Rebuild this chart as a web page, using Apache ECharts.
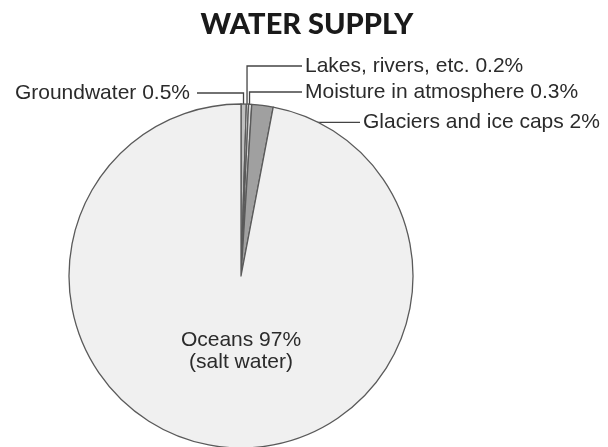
<!DOCTYPE html>
<html>
<head>
<meta charset="utf-8">
<script src="https://cdn.jsdelivr.net/npm/echarts@6/dist/echarts.min.js"></script>
<style>
  html, body { margin: 0; padding: 0; background: #fff; }
  #chart { width: 608px; height: 447px; }
</style>
</head>
<body>
<div id="chart"></div>
<script>
// Share of Earth's water by source, clockwise from 12 o'clock
const categories = ['Groundwater', 'Lakes, rivers, etc.', 'Moisture in atmosphere', 'Glaciers and ice caps', 'Oceans'];
const shares = [0.5, 0.2, 0.3, 2, 97];
const notes = ['', '', '', '', '(salt water)'];
const sliceColors = ['#c0c0c0', '#ececec', '#d8d8d8', '#a0a0a0', '#f0f0f0'];

// pie geometry
const CX = 241, CY = 276, R = 172;
const total = shares.reduce((a, b) => a + b, 0);

// point along the middle of slice i, at frac of the radius
function midPoint(i, frac) {
  let before = 0;
  for (let k = 0; k < i; k++) before += shares[k];
  const a = (before + shares[i] / 2) / total * 2 * Math.PI;
  return [CX + frac * R * Math.sin(a), CY - frac * R * Math.cos(a)];
}

// leader routing: start depth, elbow height (null = straight across), end x, text side
const leaders = [
  { depth: 0.93, y: 93, endX: 197, side: 'left' },
  { depth: 0.93, y: 66, endX: 302, side: 'right' },
  { depth: 0.93, y: 92, endX: 302, side: 'right' },
  { depth: 0.90, y: null, endX: 360, side: 'right' },
  null
];

const chart = echarts.init(document.getElementById('chart'), null, { renderer: 'canvas' });

chart.setOption({
  animation: false,
  graphic: [{
    type: 'text',
    x: 307,
    y: 25,
    style: {
      text: 'WATER SUPPLY',
      align: 'center',
      verticalAlign: 'middle',
      fontFamily: 'Lato',
      fontWeight: 900,
      fontSize: 29,
      fill: '#1a1a1a'
    }
  }],
  series: [{
    type: 'pie',
    center: [CX, CY],
    radius: R,
    startAngle: 90,
    clockwise: true,
    avoidLabelOverlap: false,
    silent: true,
    itemStyle: { borderColor: '#5a5a5a', borderWidth: 1.3 },
    label: {
      show: true,
      position: 'outside',
      fontFamily: 'Liberation Sans',
      fontSize: 21,
      color: '#2b2b2b',
      lineHeight: 22,
      formatter: p => notes[p.dataIndex]
        ? `${p.name} ${p.value}%\n${notes[p.dataIndex]}`
        : `${p.name} ${p.value}%`
    },
    labelLine: { show: true, lineStyle: { color: '#444', width: 1.3 } },
    labelLayout: params => {
      const i = params.dataIndex;
      const L = leaders[i];
      if (!L) {
        return { x: CX, y: CY + 0.44 * R, align: 'center', verticalAlign: 'middle' };
      }
      const a = midPoint(i, L.depth);
      let pts, y;
      if (L.y === null) {
        y = a[1];
        pts = [a, [L.endX, y]];
      } else {
        y = L.y;
        pts = [a, [a[0], y], [L.endX, y]];
      }
      const left = L.side === 'left';
      return {
        x: left ? L.endX - 7 : L.endX + 3,
        y: y,
        align: left ? 'right' : 'left',
        verticalAlign: 'middle',
        labelLinePoints: pts
      };
    },
    data: categories.map((name, i) => ({
      name: name,
      value: shares[i],
      itemStyle: { color: sliceColors[i] },
      labelLine: { show: i < 4 }
    }))
  }]
});
</script>
</body>
</html>
